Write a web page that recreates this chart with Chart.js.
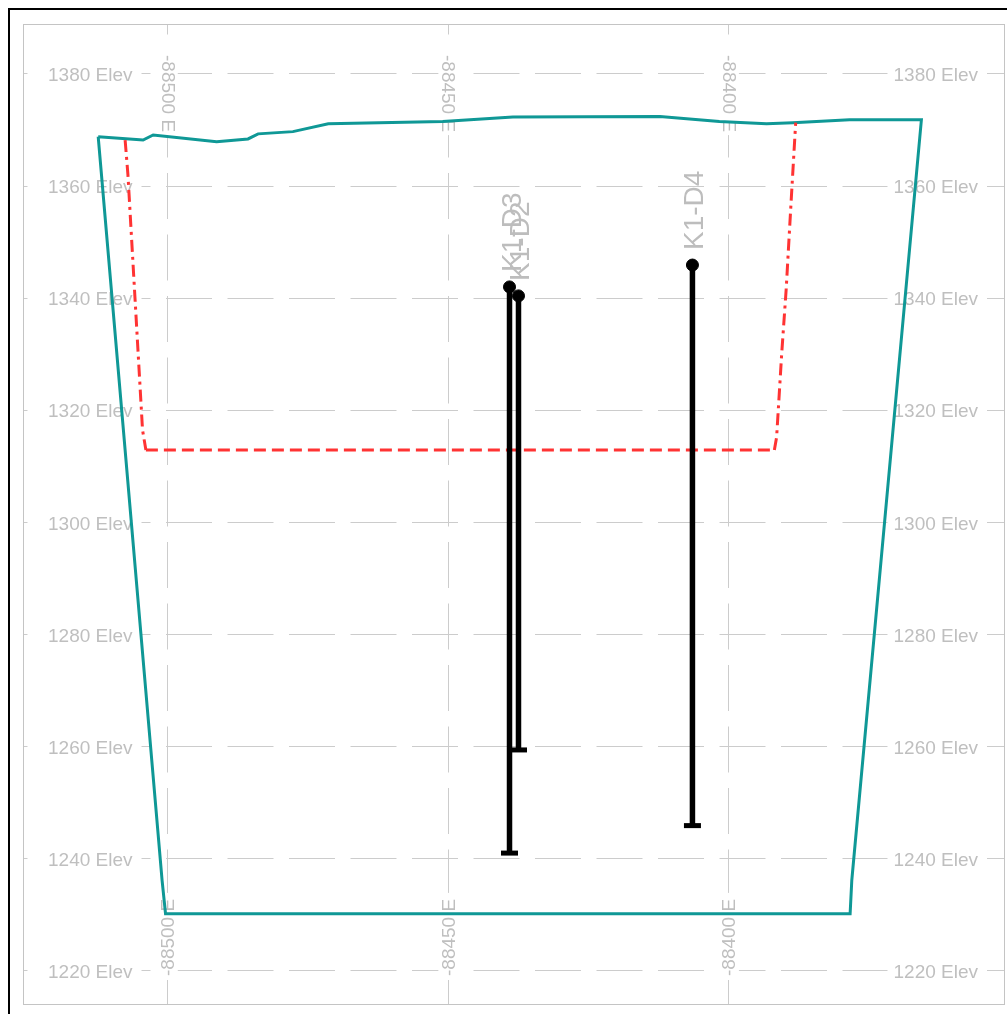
<!DOCTYPE html>
<html><head><meta charset="utf-8">
<script src="https://cdn.jsdelivr.net/npm/chart.js@4/dist/chart.umd.min.js"></script>
<style>html,body{margin:0;padding:0;background:#fff;overflow:hidden}canvas{display:block}</style>
</head><body>
<canvas id="c" width="1007" height="1014"></canvas>
<script>
// ---- data ----
const xTicks = [-88500, -88450, -88400];
const yTicks = [1220, 1240, 1260, 1280, 1300, 1320, 1340, 1360, 1380];
const xTickSuffix = ' E';
const yTickSuffix = ' Elev';

// section outline (topography + model box), easting / elevation
const outlineE = [-88512.4, -88504.4, -88502.6, -88491.3, -88485.7, -88483.9, -88477.7, -88471.4, -88451.0, -88438.5, -88412.3, -88401.7, -88393.3, -88388.6, -88378.5, -88365.7, -88378.1, -88378.4, -88500.4, -88501.0, -88512.4];
const outlineZ = [1368.8, 1368.2, 1369.1, 1367.9, 1368.4, 1369.3, 1369.7, 1371.1, 1371.5, 1372.3, 1372.4, 1371.5, 1371.1, 1371.3, 1371.8, 1371.8, 1236.2, 1230.2, 1230.2, 1236.0, 1368.8];

// pit outline (red dashed)
const pitE = [-88507.6, -88507.1, -88504.5, -88503.9, -88391.9, -88391.5, -88390.6, -88389.8, -88388.9, -88388.1];
const pitZ = [1368.2, 1362.0, 1316.5, 1312.9, 1312.9, 1315.2, 1330.0, 1341.5, 1357.5, 1371.3];

// drill holes
const wellNames = ['K1-D3', 'K1-D2', 'K1-D4'];
const wellE = [-88439.1, -88437.5, -88406.5];
const wellTopZ = [1342.0, 1340.4, 1345.9];
const wellBottomZ = [1241.0, 1259.4, 1245.9];

// ---- chart ----
const toPts = (xs, ys) => xs.map((v, i) => ({x: v, y: ys[i]}));

const datasets = [];
wellNames.forEach((n, i) => {
  datasets.push({
    label: n,
    data: [{x: wellE[i], y: wellTopZ[i]}, {x: wellE[i], y: wellBottomZ[i]}],
    showLine: true,
    borderColor: '#000',
    backgroundColor: '#000',
    borderWidth: 5.5,
    pointStyle: ['circle', 'line'],
    pointRadius: [6, 8.5],
    pointBorderWidth: [1, 5],
    pointBackgroundColor: '#000',
    pointBorderColor: '#000',
    order: 0
  });
});
datasets.push({
  label: 'pit',
  data: toPts(pitE, pitZ),
  showLine: true,
  borderColor: '#ff3333',
  borderWidth: 3,
  borderDash: [12, 6],
  segment: {
    borderDash: c => (c.p0.parsed.y === c.p1.parsed.y ? [12, 6] : [12, 5, 3, 5])
  },
  pointRadius: 0,
  tension: 0,
  order: 1
});
datasets.push({
  label: 'outline',
  data: toPts(outlineE, outlineZ),
  showLine: true,
  borderColor: '#0f9896',
  borderWidth: 3,
  pointRadius: 0,
  tension: 0,
  order: 2
});

const labelColor = '#bfbfbf';
const deco = {
  id: 'deco',
  beforeDraw(chart) {
    const ctx = chart.ctx;
    ctx.save();
    ctx.fillStyle = '#fff';
    ctx.fillRect(0, 0, chart.width, chart.height);
    ctx.strokeStyle = '#000';
    ctx.lineWidth = 2;
    ctx.strokeRect(9, 9, chart.width + 40, chart.height + 40);
    ctx.restore();
  },
  beforeDatasetsDraw(chart) {
    const {ctx, chartArea: a, scales: {x, y}} = chart;
    ctx.save();
    ctx.font = '19px "Liberation Sans", Arial, sans-serif';
    ctx.textBaseline = 'middle';
    yTicks.forEach(v => {
      const py = y.getPixelForValue(v);
      const t = v + yTickSuffix;
      const w = ctx.measureText(t).width;
      const lx = a.left + 25;
      ctx.fillStyle = '#fff';
      ctx.fillRect(lx - 6, py - 10, w + 15, 20);
      ctx.fillStyle = labelColor; ctx.textAlign = 'left';
      ctx.fillText(t, lx, py + 2);
      const rx = a.right - 27;
      ctx.fillStyle = '#fff';
      ctx.fillRect(rx - w - 6, py - 10, w + 15, 20);
      ctx.fillStyle = labelColor; ctx.textAlign = 'right';
      ctx.fillText(t, rx, py + 2);
    });
    xTicks.forEach(v => {
      const px = x.getPixelForValue(v);
      const t = v + xTickSuffix;
      const w = ctx.measureText(t).width;
      ctx.save();
      ctx.translate(px, a.top + 31);
      ctx.rotate(Math.PI / 2);
      ctx.fillStyle = '#fff';
      ctx.fillRect(-12, -10, w + 15, 20);
      ctx.fillStyle = labelColor; ctx.textAlign = 'left';
      ctx.fillText(t, 0, 1);
      ctx.restore();
      ctx.save();
      ctx.translate(px, a.bottom - 29);
      ctx.rotate(-Math.PI / 2);
      ctx.fillStyle = '#fff';
      ctx.fillRect(-4, -10, w + 10, 20);
      ctx.fillStyle = labelColor; ctx.textAlign = 'left';
      ctx.fillText(t, 0, 1);
      ctx.restore();
    });
    ctx.restore();
  },
  afterDatasetsDraw(chart) {
    const {ctx, chartArea: a, scales: {x, y}} = chart;
    ctx.save();
    ctx.font = '28px "Liberation Sans", Arial, sans-serif';
    ctx.fillStyle = '#bdbdbd';
    ctx.textAlign = 'left';
    ctx.textBaseline = 'alphabetic';
    wellNames.forEach((n, i) => {
      const px = x.getPixelForValue(wellE[i]);
      const py = y.getPixelForValue(wellTopZ[i]);
      ctx.save();
      ctx.translate(px, py);
      ctx.rotate(-Math.PI / 2);
      ctx.fillText(n, 15, 11);
      ctx.restore();
    });
    ctx.strokeStyle = '#c4c4c4';
    ctx.lineWidth = 1;
    ctx.strokeRect(a.left + 0.5, a.top + 0.5, a.right - a.left - 1, a.bottom - a.top - 1);
    ctx.restore();
  }
};

new Chart(document.getElementById('c'), {
  type: 'scatter',
  data: {datasets},
  options: {
    responsive: false,
    animation: false,
    events: [],
    layout: {autoPadding: false, padding: {left: 23, top: 24, right: 2, bottom: 9}},
    plugins: {legend: {display: false}, tooltip: {enabled: false}},
    scales: {
      x: {
        type: 'linear',
        min: -88525.8,
        max: -88350.8,
        afterBuildTicks: s => { s.ticks = xTicks.map(v => ({value: v})); },
        ticks: {display: false},
        grid: {color: '#cccccc', lineWidth: 1, drawTicks: false},
        border: {display: false, dash: [46, 15.5], dashOffset: 35.5}
      },
      y: {
        type: 'linear',
        min: 1213.9,
        max: 1388.9,
        afterBuildTicks: s => { s.ticks = yTicks.map(v => ({value: v})); },
        ticks: {display: false},
        grid: {color: '#cccccc', lineWidth: 1, drawTicks: false},
        border: {display: false, dash: [46, 15.5], dashOffset: 41.5}
      }
    }
  },
  plugins: [deco]
});
</script>
</body></html>
